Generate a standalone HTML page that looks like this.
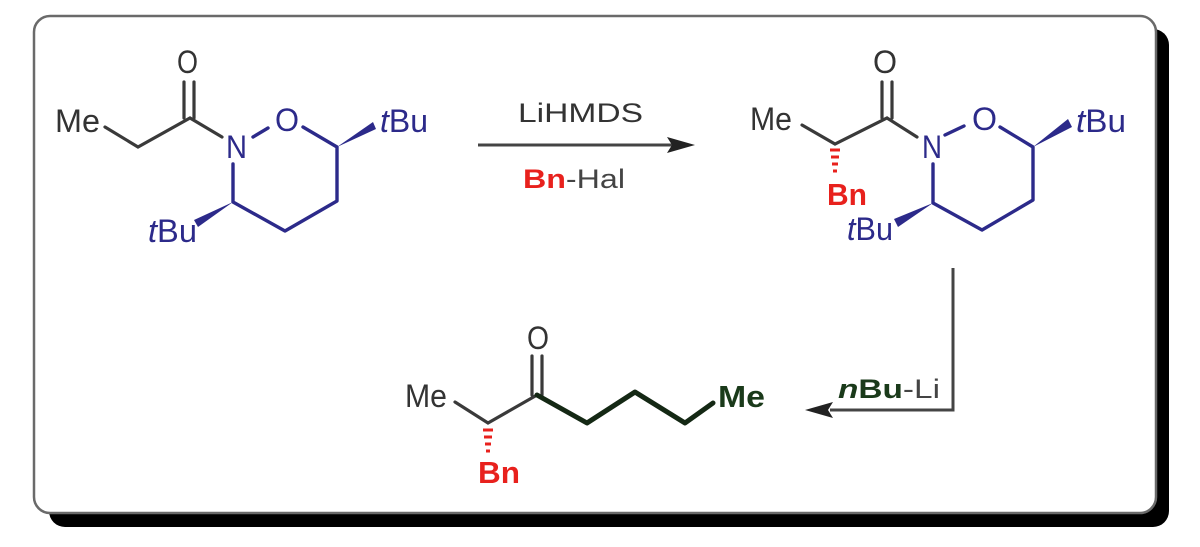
<!DOCTYPE html>
<html><head><meta charset="utf-8"><style>
html,body{margin:0;padding:0;background:#fff;width:1200px;height:547px;overflow:hidden}
svg{display:block}
text{font-family:"Liberation Sans",sans-serif}
</style></head><body>
<svg width="1200" height="547" viewBox="0 0 1200 547" xmlns="http://www.w3.org/2000/svg">
<rect x="49" y="29" width="1120" height="498" rx="16" fill="#000"/>
<rect x="34" y="16" width="1122" height="497" rx="16" fill="#fff" stroke="#6a6a6a" stroke-width="2.5"/>

<!-- Molecule 1 -->
<g stroke="#3a3a3a" stroke-width="3.2" fill="none" stroke-linecap="round">
<polyline points="105,127 138,147 190,118 222,137"/>
<line x1="184" y1="82" x2="184" y2="118"/><line x1="194" y1="82" x2="194" y2="118"/>
</g>
<g stroke="#2c2a8a" stroke-width="3.4" fill="none" stroke-linecap="round" stroke-linejoin="round">
<line x1="253" y1="137" x2="268" y2="128"/>
<polyline points="303,127 337,147 337,201 285,231 233,202 233,164"/>
</g>
<polygon points="337,147 373,122 376,129" fill="#2c2a8a"/>
<polygon points="233,202 194,220 198,227" fill="#2c2a8a"/>
<g font-size="32" fill="#333">
<text x="55" y="132" textLength="45" lengthAdjust="spacingAndGlyphs">Me</text>
<text x="177" y="73" textLength="21" lengthAdjust="spacingAndGlyphs">O</text>
</g>
<g font-size="32" fill="#2c2a8a">
<text x="226" y="158" textLength="21" lengthAdjust="spacingAndGlyphs">N</text>
<text x="275" y="131" textLength="24" lengthAdjust="spacingAndGlyphs">O</text>
<text x="380" y="132" textLength="48" lengthAdjust="spacingAndGlyphs"><tspan font-style="italic">t</tspan>Bu</text>
<text x="148" y="242" textLength="49" lengthAdjust="spacingAndGlyphs"><tspan font-style="italic">t</tspan>Bu</text>
</g>

<!-- Arrow 1 -->
<line x1="478" y1="145" x2="672" y2="145" stroke="#444" stroke-width="3"/>
<polygon points="695,145 667,137 672,145 667,153" fill="#222"/>
<text x="518" y="122" font-size="27" fill="#333" textLength="125" lengthAdjust="spacingAndGlyphs">LiHMDS</text>
<text x="523" y="188" font-size="27" fill="#444" textLength="102" lengthAdjust="spacingAndGlyphs"><tspan fill="#e8211d" font-weight="bold">Bn</tspan>-Hal</text>

<!-- Molecule 2 -->
<g stroke="#3a3a3a" stroke-width="3.2" fill="none" stroke-linecap="round">
<polyline points="802,125 835,144 887,118 917,137"/>
<line x1="882" y1="82" x2="882" y2="118"/><line x1="892" y1="82" x2="892" y2="118"/>
</g>
<g stroke="#e8211d" stroke-width="3">
<line x1="830" y1="150" x2="840" y2="150"/><line x1="831" y1="157" x2="839" y2="157"/>
<line x1="832" y1="164" x2="838" y2="164"/><line x1="833" y1="171" x2="837" y2="171"/>
</g>
<g stroke="#2c2a8a" stroke-width="3.4" fill="none" stroke-linecap="round" stroke-linejoin="round">
<line x1="945" y1="135" x2="964" y2="126"/>
<polyline points="1000,127 1033,147 1033,200 982,230 933,203 933,164"/>
</g>
<polygon points="1033,147 1068,119 1072,127" fill="#2c2a8a"/>
<polygon points="933,203 894,219 898,227" fill="#2c2a8a"/>
<g font-size="32" fill="#333">
<text x="750" y="130" textLength="42" lengthAdjust="spacingAndGlyphs">Me</text>
<text x="873" y="73" textLength="24" lengthAdjust="spacingAndGlyphs">O</text>
</g>
<text x="827" y="205" font-size="31" font-weight="bold" fill="#e8211d" textLength="40" lengthAdjust="spacingAndGlyphs">Bn</text>
<g font-size="32" fill="#2c2a8a">
<text x="922" y="158" textLength="20" lengthAdjust="spacingAndGlyphs">N</text>
<text x="972" y="130" textLength="25" lengthAdjust="spacingAndGlyphs">O</text>
<text x="1076" y="132" textLength="50" lengthAdjust="spacingAndGlyphs"><tspan font-style="italic">t</tspan>Bu</text>
<text x="847" y="240" textLength="46" lengthAdjust="spacingAndGlyphs"><tspan font-style="italic">t</tspan>Bu</text>
</g>

<!-- Arrow 2 -->
<polyline points="953,268 953,410 830,410" fill="none" stroke="#444" stroke-width="3"/>
<polygon points="805,410 833,402 828,410 833,418" fill="#222"/>
<text x="838" y="398" font-size="27" fill="#444" textLength="102" lengthAdjust="spacingAndGlyphs"><tspan fill="#1a3a1a" font-weight="bold"><tspan font-style="italic">n</tspan>Bu</tspan>-Li</text>

<!-- Molecule 3 -->
<g stroke="#3a3a3a" stroke-width="3.2" fill="none" stroke-linecap="round">
<polyline points="455,402 488,423 537,395"/>
<line x1="532" y1="356" x2="532" y2="395"/><line x1="542" y1="356" x2="542" y2="395"/>
</g>
<polyline points="537,395 587,423 635,392 685,423 713,403" fill="none" stroke="#142814" stroke-width="5" stroke-linejoin="round" stroke-linecap="round"/>
<g stroke="#e8211d" stroke-width="3">
<line x1="483" y1="430" x2="493" y2="430"/><line x1="484" y1="437" x2="492" y2="437"/>
<line x1="485" y1="444" x2="491" y2="444"/><line x1="486" y1="451" x2="490" y2="451"/>
</g>
<g font-size="32" fill="#333">
<text x="405" y="407" textLength="42" lengthAdjust="spacingAndGlyphs">Me</text>
<text x="527" y="349" textLength="22" lengthAdjust="spacingAndGlyphs">O</text>
</g>
<text x="718" y="407" font-size="31" font-weight="bold" fill="#1a3a1a" textLength="47" lengthAdjust="spacingAndGlyphs">Me</text>
<text x="478" y="483" font-size="31" font-weight="bold" fill="#e8211d" textLength="42" lengthAdjust="spacingAndGlyphs">Bn</text>
</svg>
</body></html>
